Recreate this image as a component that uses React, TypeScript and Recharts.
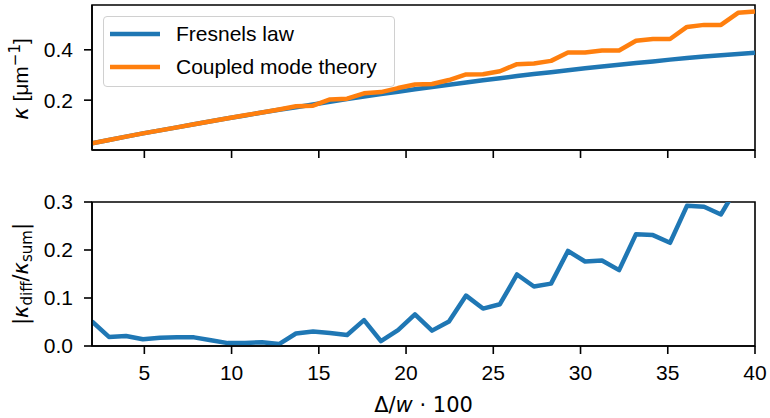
import React from 'react';
import { LineChart, Line, XAxis, YAxis, Legend, ReferenceArea } from 'recharts';

const xValues = [
  2.0, 2.97, 3.95, 4.92, 5.9, 6.87, 7.85, 8.82, 9.79, 10.77, 11.74, 12.72, 13.69, 14.67,
  15.64, 16.62, 17.59, 18.56, 19.54, 20.51, 21.49, 22.46, 23.44, 24.41, 25.38, 26.36,
  27.33, 28.31, 29.28, 30.26, 31.23, 32.21, 33.18, 34.15, 35.13, 36.1, 37.08, 38.05, 39.03, 40.0,
];
const fresnelKappa = [
  0.029, 0.042, 0.055, 0.068, 0.08, 0.092, 0.104, 0.116, 0.128, 0.139, 0.151, 0.162, 0.172, 0.183,
  0.194, 0.204, 0.214, 0.224, 0.233, 0.243, 0.252, 0.261, 0.27, 0.279, 0.287, 0.296,
  0.304, 0.311, 0.319, 0.327, 0.334, 0.341, 0.348, 0.354, 0.361, 0.367, 0.373, 0.378, 0.383, 0.388,
];
const cmtKappa = [
  0.029, 0.042, 0.055, 0.068, 0.08, 0.092, 0.104, 0.116, 0.128, 0.14, 0.151, 0.163, 0.176, 0.178,
  0.203, 0.206, 0.227, 0.232, 0.248, 0.262, 0.264, 0.28, 0.302, 0.303, 0.315, 0.343,
  0.346, 0.356, 0.389, 0.389, 0.397, 0.397, 0.436, 0.443, 0.443, 0.491, 0.499, 0.499, 0.547, 0.552,
];
const kappaRatio = [
  0.051, 0.019, 0.021, 0.014, 0.017, 0.018, 0.018, 0.012, 0.006, 0.006, 0.008, 0.004, 0.026, 0.03,
  0.027, 0.023, 0.054, 0.01, 0.033, 0.066, 0.032, 0.051, 0.105, 0.078, 0.087, 0.149,
  0.124, 0.13, 0.198, 0.176, 0.178, 0.158, 0.233, 0.231, 0.215, 0.292, 0.29, 0.274, 0.335, 0.36,
];
const xTicks = [5, 10, 15, 20, 25, 30, 35, 40];
const xDomain = [2, 40];
const topYDomain = [0.002, 0.578];
const bottomYDomain = [0, 0.3];
const topYTicks = [0.2, 0.4];
const bottomYTicks = [0, 0.1, 0.2, 0.3];
const seriesNames = ['Fresnels law', 'Coupled mode theory'];

const BLUE = '#1f77b4';
const ORANGE = '#ff7f0e';
const TEXT_FONT = '"Liberation Sans", Arial, sans-serif';
const MATH_FONT = '"DejaVu Sans", sans-serif';
const FS = 21;

const topData = xValues.map((x, i) => ({ x, fresnel: fresnelKappa[i], cmt: cmtKappa[i] }));
const bottomData = xValues.map((x, i) => ({ x, ratio: kappaRatio[i] }));

const axisLine = { stroke: '#000', strokeWidth: 1.6 };
const tickLine = { stroke: '#000', strokeWidth: 1.6 };
const tickStyle = { fill: '#000', fontSize: FS, fontFamily: TEXT_FONT };

const LegendBox = () => (
  <div
    style={{
      width: 292,
      height: 71,
      boxSizing: 'border-box',
      border: '1.5px solid #d0d0d0',
      borderRadius: 4,
      background: 'rgba(255,255,255,0.8)',
      position: 'relative',
      fontFamily: TEXT_FONT,
      fontSize: FS,
      color: '#000',
    }}
  >
    {seriesNames.map((name, i) => (
      <div
        key={name}
        style={{ position: 'absolute', left: 0, top: 3 + i * 33, height: 28, display: 'flex', alignItems: 'center' }}
      >
        <svg width={64} height={28} style={{ display: 'block' }}>
          <line x1={6} x2={56} y1={14} y2={14} stroke={i === 0 ? BLUE : ORANGE} strokeWidth={4.5} />
        </svg>
        <span style={{ marginLeft: 8, whiteSpace: 'nowrap', lineHeight: '28px' }}>{name}</span>
      </div>
    ))}
  </div>
);

export default function App() {
  return (
    <div style={{ position: 'absolute', left: 0, top: 0, width: 770, height: 418, background: '#fff' }}>
      <div style={{ position: 'absolute', left: 0, top: 0 }}>
        <LineChart width={770} height={160} data={topData} margin={{ top: 5, right: 15, bottom: 0, left: 0 }}>
          <XAxis
            dataKey="x"
            type="number"
            domain={xDomain}
            ticks={xTicks}
            interval={0}
            allowDataOverflow
            tickFormatter={() => ''}
            tickSize={8}
            height={10}
            axisLine={axisLine}
            tickLine={tickLine}
            tick={tickStyle}
          />
          <YAxis
            type="number"
            domain={topYDomain}
            ticks={topYTicks}
            interval={0}
            allowDataOverflow
            width={92}
            tickSize={8}
            tickMargin={11}
            axisLine={axisLine}
            tickLine={tickLine}
            tick={tickStyle}
            tickFormatter={(v: number) => v.toFixed(1)}
          />
          <ReferenceArea
            x1={xDomain[0]}
            x2={xDomain[1]}
            y1={topYDomain[0]}
            y2={topYDomain[1]}
            fill="none"
            stroke="#000"
            strokeWidth={1.6}
            ifOverflow="visible"
          />
          <Line
            dataKey="fresnel"
            name={seriesNames[0]}
            stroke={BLUE}
            strokeWidth={4.5}
            dot={false}
            strokeLinejoin="round"
            isAnimationActive={false}
          />
          <Line
            dataKey="cmt"
            name={seriesNames[1]}
            stroke={ORANGE}
            strokeWidth={4.5}
            dot={false}
            strokeLinejoin="round"
            isAnimationActive={false}
          />
          <Legend
            layout="vertical"
            align="center"
            verticalAlign="middle"
            content={() => <LegendBox />}
            wrapperStyle={{ left: 103, top: 16, width: 292, height: 71, margin: 0 }}
          />
        </LineChart>
      </div>
      <div style={{ position: 'absolute', left: 0, top: 190 }}>
        <LineChart width={770} height={228} data={bottomData} margin={{ top: 12, right: 15, bottom: 0, left: 0 }}>
          <XAxis
            dataKey="x"
            type="number"
            domain={xDomain}
            ticks={xTicks}
            interval={0}
            allowDataOverflow
            tickSize={8}
            tickMargin={11}
            height={72}
            axisLine={axisLine}
            tickLine={tickLine}
            tick={tickStyle}
          />
          <YAxis
            type="number"
            domain={bottomYDomain}
            ticks={bottomYTicks}
            interval={0}
            allowDataOverflow
            width={92}
            tickSize={8}
            tickMargin={11}
            axisLine={axisLine}
            tickLine={tickLine}
            tick={tickStyle}
            tickFormatter={(v: number) => v.toFixed(1)}
          />
          <ReferenceArea
            x1={xDomain[0]}
            x2={xDomain[1]}
            y1={bottomYDomain[0]}
            y2={bottomYDomain[1]}
            fill="none"
            stroke="#000"
            strokeWidth={1.6}
            ifOverflow="visible"
          />
          <Line
            dataKey="ratio"
            stroke={BLUE}
            strokeWidth={4.5}
            dot={false}
            strokeLinejoin="round"
            isAnimationActive={false}
          />
        </LineChart>
      </div>
      <svg
        width={770}
        height={418}
        style={{ position: 'absolute', left: 0, top: 0, pointerEvents: 'none' }}
      >
        <text x={423.5} y={412} textAnchor="middle" fontSize={FS} fontFamily={MATH_FONT} fill="#000">
          <tspan>Δ/</tspan>
          <tspan fontStyle="italic">w</tspan>
          <tspan> · 100</tspan>
        </text>
        <text transform="translate(28,79) rotate(-90)" textAnchor="middle" fontSize={FS} fill="#000">
          <tspan fontFamily={MATH_FONT} fontStyle="italic">κ</tspan>
          <tspan fontFamily={TEXT_FONT}> [μm</tspan>
          <tspan fontFamily={MATH_FONT} fontSize={15} dy={-8}>−1</tspan>
          <tspan fontFamily={TEXT_FONT} dy={8}>]</tspan>
        </text>
        <text transform="translate(28,274) rotate(-90)" textAnchor="middle" fontSize={FS} fontFamily={MATH_FONT} fill="#000">
          <tspan>|</tspan>
          <tspan fontStyle="italic">κ</tspan>
          <tspan fontSize={15} dy={4}>diff</tspan>
          <tspan dy={-4}>/</tspan>
          <tspan fontStyle="italic">κ</tspan>
          <tspan fontSize={15} dy={4}>sum</tspan>
          <tspan dy={-4}>|</tspan>
        </text>
      </svg>
    </div>
  );
}
